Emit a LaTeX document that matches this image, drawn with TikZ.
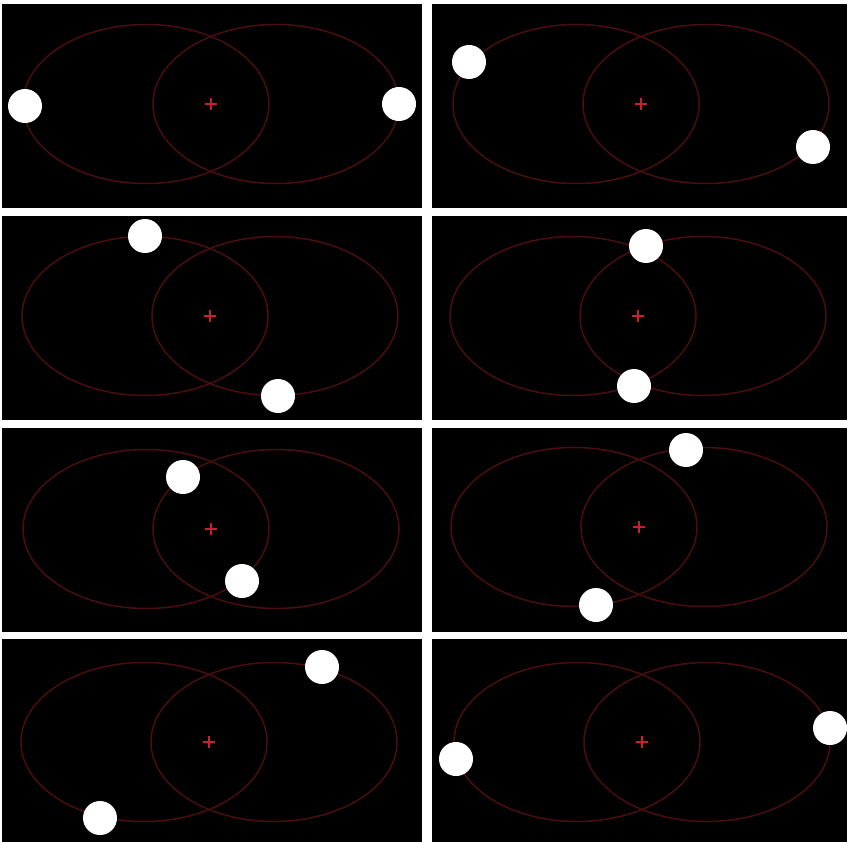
\documentclass[tikz,border=0pt]{standalone}
\begin{document}
\begin{tikzpicture}[x=1pt,y=-1pt,
  panelbox/.style={fill=black},
  orbit/.style={draw=orbitred,line width=1.5pt},
  crossmark/.style={draw=crossred,line width=1.8pt},
  ball/.style={circle,fill=white,draw=none,minimum size=34pt,inner sep=0pt}]
\definecolor{orbitred}{HTML}{4A0E10}
\definecolor{crossred}{HTML}{C8202C}
\useasboundingbox (0,0) rectangle (848,842);
\fill[white] (0,0) rectangle (848,842);
% panel frames
\foreach \yt/\yb in {4/208,216/420,428/632,639/842}{
  \fill[panelbox] (2,\yt) rectangle (422,\yb);
  \fill[panelbox] (432,\yt) rectangle (847,\yb);
}
% panels: cx/cy/ball1/ball2/id
\foreach \cx/\cy/\ax/\ay/\bx/\by/\id in {
  211/104/25/106/399/104/a,
  641/104/469/62/813/147/b,
  210/316/145/236/278/396/c,
  638/316/646/246/634/386/d,
  211/529/183/477/242/581/e,
  639/527/686/450/596/605/f,
  209/742/322/667/100/818/g,
  642/742/830/728/456/759/h}{
  \draw[orbit] (\cx-65,\cy) ellipse [x radius=123pt, y radius=79.5pt];
  \draw[orbit] (\cx+65,\cy) ellipse [x radius=123pt, y radius=79.5pt];
  \coordinate (c\id) at (\cx,\cy);
  \draw[crossmark] ([xshift=-6pt]c\id) -- ([xshift=6pt]c\id);
  \draw[crossmark] ([yshift=-6pt]c\id) -- ([yshift=6pt]c\id);
  \node[ball] (b1\id) at (\ax,\ay) {};
  \node[ball] (b2\id) at (\bx,\by) {};
}
\end{tikzpicture}
\end{document}
